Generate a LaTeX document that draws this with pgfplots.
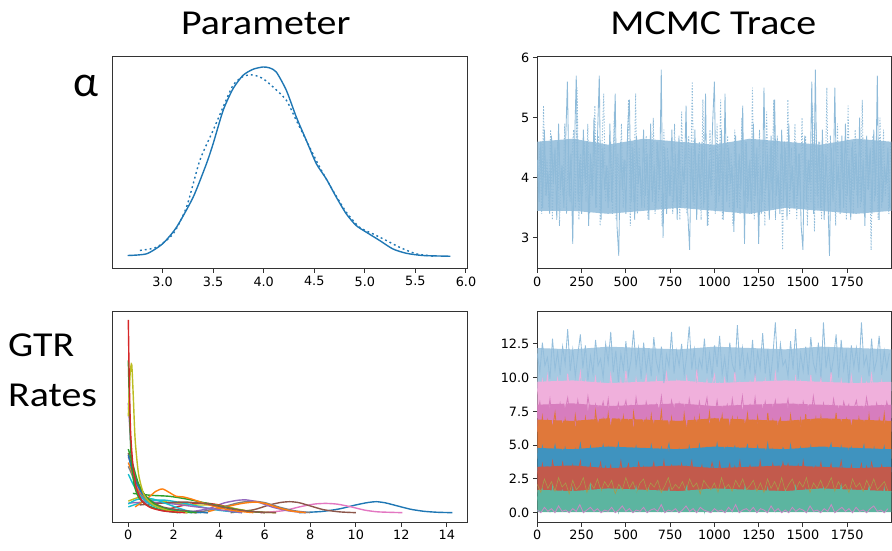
\documentclass[border=0pt]{standalone}
\usepackage{fontspec}
\usepackage{graphicx}
\usepackage{pgfplots}
\pgfplotsset{compat=1.18}
\newfontfamily\carlito{Carlito}
\newfontfamily\dejavu{DejaVu Sans}

\definecolor{c0}{HTML}{1F77B4}
\definecolor{c1}{HTML}{FF7F0E}
\definecolor{c2}{HTML}{2CA02C}
\definecolor{c3}{HTML}{D62728}
\definecolor{c4}{HTML}{9467BD}
\definecolor{c5}{HTML}{8C564B}
\definecolor{c6}{HTML}{E377C2}
\definecolor{c7}{HTML}{7F7F7F}
\definecolor{c8}{HTML}{BCBD22}
\definecolor{c9}{HTML}{17BECF}
% trace colours (alpha-blended look)
\definecolor{tr}{HTML}{8FBBD9}
\definecolor{b1}{HTML}{94BEDC}
\definecolor{b2}{HTML}{F0B0DC}
\definecolor{b2b}{HTML}{D77DBE}
\definecolor{b3}{HTML}{E0783A}
\definecolor{b4}{HTML}{3F93BF}
\definecolor{b5}{HTML}{C25A4C}
\definecolor{b6}{HTML}{A99A4A}
\definecolor{b7}{HTML}{5CB5A0}
\definecolor{b8}{HTML}{C68BC4}

\pgfplotsset{
  mpl/.style={
    scale only axis, anchor=south west,
    axis line style={black!80, line width=1pt},
    tick align=outside, major tick length=4.5pt,
    tick style={black!80, line width=1pt},
    xtick pos=left, ytick pos=left,
    tick label style={font=\dejavu\fontsize{12.8}{15}\selectfont},
    /pgf/number format/assume math mode=true,
    /pgf/number format/1000 sep={},
    scaled ticks=false,
  },
  kde/.style={line width=1.4pt, smooth, tension=0.4},
  tl/.style={line width=0.85pt},
  band/.style={draw=none, fill=#1},
}

\begin{document}
\begin{tikzpicture}[x=1pt,y=1pt]
\useasboundingbox (0,0) rectangle (892,551);

% titles and row labels
\node[inner sep=0, anchor=base, font=\carlito\fontsize{35}{40}\selectfont] at (265.8,516.7) {\scalebox{1.14}[1]{Parameter}};
\node[inner sep=0, anchor=base, font=\carlito\fontsize{35}{40}\selectfont] at (713.3,516) {\scalebox{1.14}[1]{MCMC Trace}};
\node[inner sep=0, anchor=base west, font=\carlito\fontsize{44}{48}\selectfont] at (73,454) {α};
\node[inner sep=0, anchor=base west, font=\carlito\fontsize{35}{40}\selectfont] at (8,194.3) {\scalebox{1.14}[1]{GTR}};
\node[inner sep=0, anchor=base west, font=\carlito\fontsize{35}{40}\selectfont] at (8,144) {\scalebox{1.14}[1]{Rates}};

% ---- alpha density
\begin{axis}[mpl, at={(112pt,282.5pt)}, width=355pt, height=211.5pt,
  xmin=2.50, xmax=6.01, ymin=-0.069, ymax=1.053, ytick=\empty,
  xtick={3.0,3.5,4.0,4.5,5.0,5.5,6.0},
  xticklabel style={/pgf/number format/.cd, fixed, fixed zerofill, precision=1}]
\addplot[c0, kde] coordinates {(2.655,0)(2.842,0.009)(3.0,0.062)(3.138,0.150)(3.303,0.310)(3.434,0.487)(3.5,0.593)(3.599,0.770)(3.697,0.885)(3.796,0.956)(3.895,0.988)(3.993,1.0)(4.059,0.995)(4.125,0.973)(4.224,0.876)(4.322,0.735)(4.421,0.611)(4.520,0.487)(4.618,0.407)(4.717,0.310)(4.816,0.221)(4.914,0.159)(5.013,0.124)(5.145,0.080)(5.276,0.035)(5.408,0.012)(5.572,0.0)(5.845,-0.004)};
\addplot[c0, kde, line width=1.4pt, dash pattern=on 1.9pt off 3pt] coordinates {(2.776,0.027)(2.941,0.044)(3.105,0.115)(3.237,0.257)(3.368,0.504)(3.5,0.664)(3.599,0.788)(3.697,0.903)(3.796,0.950)(3.895,0.958)(3.993,0.938)(4.092,0.894)(4.224,0.823)(4.322,0.717)(4.454,0.575)(4.553,0.469)(4.684,0.345)(4.816,0.230)(4.947,0.150)(5.079,0.115)(5.211,0.080)(5.342,0.044)(5.507,0.009)(5.704,-0.005)};
\end{axis}

% ---- alpha trace
\begin{axis}[mpl, at={(537.3pt,282.5pt)}, width=354pt, height=211.5pt,
  xmin=0, xmax=1999, ymin=2.49, ymax=6.01,
  ytick={3,4,5,6}, xtick={0,250,500,750,1000,1250,1500,1750}]
% dense core of both chains
\addplot[band=tr!85!white] coordinates {(0,4.6)(200,4.65)(400,4.55)(600,4.65)(800,4.6)(1000,4.55)(1200,4.65)(1400,4.6)(1600,4.55)(1800,4.65)(2000,4.6)
 (2000,3.45)(1800,3.4)(1600,3.45)(1400,3.5)(1200,3.4)(1000,3.45)(800,3.5)(600,3.45)(400,3.4)(200,3.45)(0,3.45)};
\addplot[tr, tl] table[row sep=\\, header=false, x expr=\coordindex*10, y index=0] {
4.3\\3.6\\4.6\\3.5\\4.8\\3.7\\4.1\\3.4\\4.7\\3.9\\4.5\\3.3\\4.9\\3.8\\4.2\\3.5\\4.6\\5.6\\3.7\\4.4\\
2.9\\4.5\\5.7\\3.6\\4.3\\3.4\\4.8\\3.9\\4.6\\3.2\\4.4\\3.7\\5.0\\3.5\\4.7\\5.7\\3.3\\4.5\\3.8\\4.2\\
3.5\\4.9\\3.6\\4.4\\5.4\\3.2\\2.7\\4.6\\3.8\\4.3\\3.4\\4.8\\5.3\\3.6\\4.5\\3.3\\4.7\\3.9\\4.2\\3.5\\
4.8\\3.7\\4.4\\3.3\\4.9\\3.6\\4.2\\3.5\\4.6\\3.8\\5.8\\3.0\\4.5\\3.4\\4.3\\3.7\\4.8\\3.6\\4.4\\3.3\\
4.7\\3.5\\4.2\\3.9\\5.2\\3.4\\2.8\\4.5\\3.6\\4.8\\3.3\\4.4\\3.7\\4.6\\3.5\\5.4\\3.2\\4.3\\3.8\\4.9\\
5.6\\3.5\\4.4\\3.7\\4.8\\3.3\\5.4\\3.6\\4.5\\3.9\\4.2\\3.1\\4.7\\3.5\\4.4\\3.8\\5.2\\2.9\\4.6\\3.6\\
4.3\\3.4\\4.9\\3.7\\4.5\\2.9\\4.2\\3.6\\5.5\\3.8\\4.4\\3.3\\4.7\\3.5\\5.3\\3.7\\4.1\\3.4\\4.8\\3.6\\
4.5\\3.3\\4.9\\3.8\\4.2\\3.5\\4.6\\3.7\\4.4\\3.2\\2.8\\4.7\\3.6\\4.3\\3.9\\5.6\\3.4\\5.8\\3.7\\4.6\\
3.5\\4.8\\3.3\\4.4\\3.7\\2.7\\4.5\\3.6\\5.5\\3.8\\4.2\\3.4\\4.7\\3.5\\4.9\\3.7\\4.3\\3.3\\4.6\\3.8\\
4.4\\3.5\\5.0\\3.6\\4.3\\3.2\\4.7\\3.8\\4.5\\3.4\\4.8\\3.7\\5.7\\3.3\\4.6\\3.6\\4.2\\3.9\\4.5\\3.5\\
};
\addplot[tr, tl, dash pattern=on 1.3pt off 1.6pt] table[row sep=\\, header=false, x expr=\coordindex*10+5, y index=0] {
3.8\\4.5\\3.4\\5.2\\3.7\\4.3\\3.5\\4.8\\3.3\\4.4\\3.9\\4.6\\3.2\\4.2\\3.7\\4.9\\3.4\\4.5\\3.6\\4.3\\
4.8\\3.5\\5.5\\3.3\\4.4\\3.7\\4.6\\3.6\\4.9\\3.4\\4.3\\3.8\\5.2\\3.5\\4.7\\3.2\\4.5\\5.4\\3.6\\4.2\\
3.6\\4.6\\3.4\\5.1\\3.3\\4.4\\3.7\\4.9\\3.5\\4.3\\3.9\\5.3\\3.2\\4.6\\3.6\\5.4\\3.4\\4.5\\3.7\\4.1\\
3.5\\4.7\\3.3\\4.4\\3.8\\5.0\\3.4\\4.6\\3.6\\4.3\\3.2\\4.8\\3.5\\4.5\\3.7\\4.2\\3.4\\4.9\\3.6\\4.4\\
3.3\\5.1\\3.6\\4.5\\3.4\\4.7\\3.7\\5.6\\3.5\\4.3\\3.9\\4.6\\3.3\\5.3\\3.6\\4.4\\3.2\\4.8\\3.7\\4.5\\
3.4\\4.9\\3.6\\5.3\\3.3\\4.5\\3.8\\4.7\\3.5\\4.4\\3.2\\4.8\\3.6\\4.3\\3.4\\5.0\\3.7\\4.6\\3.5\\4.2\\
3.6\\5.5\\3.3\\4.4\\3.7\\4.8\\3.4\\4.6\\3.2\\5.1\\3.6\\4.5\\3.8\\5.3\\3.3\\4.7\\3.5\\4.4\\2.8\\4.6\\
3.7\\5.3\\3.4\\4.5\\3.6\\4.9\\3.3\\4.4\\3.8\\5.0\\3.5\\4.7\\3.2\\4.3\\3.6\\5.2\\3.1\\4.8\\3.5\\4.6\\
3.3\\4.4\\3.6\\5.5\\3.4\\4.7\\3.7\\4.3\\3.2\\4.9\\3.5\\4.6\\3.8\\4.4\\3.3\\5.2\\3.6\\4.5\\3.4\\4.8\\
3.7\\4.3\\3.5\\5.3\\3.4\\4.6\\3.8\\4.4\\2.8\\4.7\\3.6\\4.5\\3.3\\5.0\\3.5\\4.8\\3.7\\4.2\\3.4\\4.6\\
};
\end{axis}

% ---- GTR rates densities
\begin{axis}[mpl, at={(112pt,28.7pt)}, width=355pt, height=210.6pt,
  xmin=-0.717, xmax=14.89, ymin=-0.05, ymax=1.043, ytick=\empty,
  xtick={0,2,4,6,8,10,12,14}]
\addplot[c0, kde] coordinates {(7.5,0)(8.5,0.006)(9.3,0.02)(10.0,0.04)(10.5,0.052)(10.9,0.057)(11.3,0.051)(11.8,0.036)(12.4,0.018)(13.0,0.007)(13.6,0.002)(14.25,0)};
\addplot[c6, kde] coordinates {(5.8,0)(6.8,0.01)(7.6,0.032)(8.2,0.045)(8.7,0.048)(9.2,0.044)(9.8,0.03)(10.4,0.013)(11.0,0.004)(12.05,0)};
\addplot[c5, kde] coordinates {(4.5,0)(5.5,0.015)(6.2,0.04)(6.7,0.053)(7.1,0.057)(7.5,0.052)(8.0,0.035)(8.6,0.015)(9.3,0.004)(10.0,0)};
\addplot[c7, kde] coordinates {(3.0,0)(4.0,0.025)(4.8,0.05)(5.4,0.06)(6.0,0.052)(6.6,0.03)(7.3,0.01)(8.0,0)};
\addplot[c4, kde] coordinates {(2.5,0)(3.5,0.02)(4.2,0.05)(4.8,0.064)(5.2,0.066)(5.7,0.055)(6.3,0.03)(7.0,0.01)(7.8,0)};
\addplot[c1, kde] coordinates {(3.5,0.005)(4.3,0.03)(5.0,0.048)(5.6,0.055)(6.1,0.045)(6.6,0.025)(7.2,0.008)(7.8,0)};
\addplot[c3, kde] coordinates {(1.5,0.01)(2.5,0.04)(3.3,0.05)(4.0,0.04)(5.0,0.012)(6.0,0)};
\addplot[c8, kde] coordinates {(0,0.06)(0.5,0.08)(1.0,0.07)(2.0,0.05)(3.0,0.04)(3.8,0.04)(4.5,0.025)(5.5,0.005)(6.5,0)};
\addplot[c2, kde] coordinates {(0.2,0.1)(1.0,0.09)(1.8,0.085)(2.6,0.07)(3.4,0.05)(4.2,0.03)(5.0,0.012)(6.0,0)};
\addplot[c9, kde] coordinates {(0,0.03)(0.8,0.06)(1.6,0.065)(2.4,0.05)(3.2,0.03)(4.0,0.012)(5.0,0)};
\addplot[c4, kde] coordinates {(0,0.05)(1.0,0.055)(2.0,0.045)(3.0,0.03)(4.0,0.015)(5.0,0)};
\addplot[c1, kde] coordinates {(0.3,0.03)(0.8,0.07)(1.2,0.11)(1.5,0.123)(1.8,0.105)(2.1,0.085)(2.4,0.082)(2.8,0.07)(3.3,0.05)(4.0,0.025)(4.8,0.008)(5.5,0)};
\addplot[c5, kde] coordinates {(0.5,0.04)(1.5,0.05)(2.5,0.055)(3.5,0.045)(4.5,0.02)(5.5,0.005)(6.5,0)};
\addplot[c9, kde] coordinates {(0,0.045)(0.3,0.065)(0.7,0.075)(1.1,0.07)(1.6,0.05)(2.1,0.028)(2.6,0.01)(3.2,0)};
\addplot[c7, kde] coordinates {(0,0.24)(0.15,0.2)(0.4,0.12)(0.8,0.06)(1.4,0.025)(2.2,0.006)(3.0,0)};
\addplot[c1, kde] coordinates {(0,0.26)(0.2,0.2)(0.5,0.11)(1.0,0.05)(1.7,0.015)(2.6,0)};
\addplot[c6, kde] coordinates {(0,0.29)(0.15,0.24)(0.4,0.14)(0.8,0.07)(1.4,0.03)(2.2,0.008)(3.0,0)};
\addplot[c5, kde] coordinates {(0,0.31)(0.2,0.22)(0.5,0.13)(0.9,0.07)(1.5,0.03)(2.5,0.01)(3.5,0)};
\addplot[c0, kde] coordinates {(0,0.3)(0.1,0.25)(0.3,0.17)(0.6,0.1)(1.0,0.05)(1.6,0.02)(2.5,0.005)(3.5,0)};
\addplot[c9, kde] coordinates {(0,0.2)(0.2,0.15)(0.5,0.09)(1.0,0.04)(1.8,0.01)(2.8,0)};
\addplot[c2, kde] coordinates {(0,0.33)(0.2,0.25)(0.45,0.15)(0.8,0.08)(1.3,0.035)(2.0,0.01)(3.0,0)};
\addplot[c4, kde] coordinates {(0,0.57)(0.06,0.45)(0.15,0.28)(0.3,0.15)(0.5,0.08)(0.9,0.035)(1.5,0.01)(2.3,0)};
\addplot[c2, kde] coordinates {(0,0.79)(0.05,0.55)(0.12,0.3)(0.25,0.15)(0.45,0.08)(0.8,0.04)(1.4,0.015)(2.2,0)};
\addplot[c8, kde] coordinates {(0,0.5)(0.08,0.72)(0.15,0.77)(0.22,0.6)(0.3,0.38)(0.45,0.2)(0.7,0.09)(1.1,0.04)(1.8,0.01)(2.6,0)};
\addplot[c3, kde] coordinates {(0,1.0)(0.04,0.7)(0.1,0.42)(0.2,0.25)(0.35,0.13)(0.6,0.06)(1.0,0.025)(1.6,0.008)(2.5,0)};
\end{axis}

% ---- GTR rates traces
\begin{axis}[mpl, at={(537.3pt,28.7pt)}, width=354pt, height=210.6pt,
  xmin=0, xmax=1999, ymin=-0.71, ymax=14.89,
  ytick={0,2.5,5,7.5,10,12.5}, xtick={0,250,500,750,1000,1250,1500,1750},
  yticklabel style={/pgf/number format/.cd, fixed, fixed zerofill, precision=1}]
% dense cores of the rate traces (upper edge of each band, drawn from the top down)
\addplot[band=b1!82!white] coordinates {(0,12.2)(200,12.1)(400,12.3)(600,12.2)(800,12.1)(1000,12.3)(1200,12.2)(1400,12.1)(1600,12.3)(1800,12.2)(2000,12.1)(2000,9.0)(0,9.0)};
\addplot[band=b2] coordinates {(0,9.7)(200,9.8)(400,9.6)(600,9.7)(800,9.8)(1000,9.6)(1200,9.7)(1400,9.8)(1600,9.7)(1800,9.6)(2000,9.7)(2000,7.0)(0,7.0)};
\addplot[band=b2b] coordinates {(0,8.0)(200,8.1)(400,7.9)(600,8.0)(800,8.1)(1000,7.9)(1200,8.0)(1400,8.1)(1600,8.0)(1800,7.9)(2000,8.0)(2000,6.0)(0,6.0)};
\addplot[band=b3] coordinates {(0,6.9)(200,6.8)(400,7.0)(600,6.9)(800,6.8)(1000,7.0)(1200,6.9)(1400,6.8)(1600,7.0)(1800,6.9)(2000,6.8)(2000,4.0)(0,4.0)};
\addplot[band=b4] coordinates {(0,4.8)(200,4.7)(400,4.9)(600,4.8)(800,4.7)(1000,4.9)(1200,4.8)(1400,4.7)(1600,4.9)(1800,4.8)(2000,4.7)(2000,3.0)(0,3.0)};
\addplot[band=b5] coordinates {(0,3.4)(200,3.5)(400,3.3)(600,3.4)(800,3.5)(1000,3.3)(1200,3.4)(1400,3.5)(1600,3.4)(1800,3.3)(2000,3.4)(2000,1.5)(0,1.5)};
\addplot[band=b7] coordinates {(0,1.7)(200,1.6)(400,1.8)(600,1.7)(800,1.6)(1000,1.8)(1200,1.7)(1400,1.6)(1600,1.8)(1800,1.7)(2000,1.6)(2000,0.05)(0,0.05)};
% individual draws
\addplot[b1, tl] table[row sep=\\, header=false, x expr=\coordindex*14.3, y index=0] {
11.8\\10.4\\12.6\\10.9\\11.5\\9.9\\12.9\\10.6\\11.9\\10.2\\12.3\\11.0\\13.6\\10.5\\
12.1\\10.1\\11.7\\13.2\\10.7\\12.4\\9.8\\11.6\\10.3\\12.8\\10.9\\11.4\\10.0\\12.5\\
11.1\\13.4\\10.4\\12.0\\9.7\\11.8\\10.6\\12.7\\10.2\\11.3\\13.5\\10.8\\12.2\\9.9\\
12.6\\10.5\\11.9\\10.1\\13.0\\11.2\\10.4\\12.3\\9.6\\11.7\\10.8\\13.4\\10.3\\12.0\\
10.9\\12.5\\10.2\\11.6\\13.8\\10.6\\12.1\\9.9\\11.4\\10.7\\12.9\\10.3\\11.8\\10.0\\
12.4\\10.8\\13.1\\10.2\\11.5\\9.7\\12.6\\11.0\\10.4\\13.9\\10.6\\12.2\\10.1\\11.7\\
10.5\\12.8\\10.0\\11.9\\10.7\\13.3\\10.3\\12.1\\9.8\\11.6\\14.1\\10.4\\12.5\\10.9\\
11.3\\10.1\\12.7\\10.6\\13.6\\9.9\\11.8\\10.5\\12.3\\10.2\\13.0\\11.1\\10.4\\12.6\\
9.8\\14.1\\10.7\\12.0\\10.3\\11.5\\13.2\\10.0\\12.8\\10.6\\11.9\\9.6\\12.4\\10.8\\
12.2\\10.4\\14.1\\10.9\\11.6\\10.1\\12.9\\10.5\\11.3\\13.1\\10.2\\12.0\\10.7\\11.8\\
};
\addplot[b2, tl] table[row sep=\\, header=false, x expr=\coordindex*14.3, y index=0] {
9.2\\8.1\\9.8\\8.5\\10.1\\8.0\\9.4\\8.7\\9.9\\8.3\\9.1\\7.9\\10.3\\8.6\\
9.5\\8.2\\9.0\\10.4\\8.4\\9.7\\7.8\\9.3\\8.8\\10.0\\8.1\\9.6\\8.5\\9.2\\
8.0\\10.2\\8.6\\9.4\\7.9\\9.8\\8.3\\10.5\\8.7\\9.1\\8.2\\9.9\\8.4\\9.6\\
8.9\\10.1\\8.2\\9.3\\8.6\\9.9\\7.8\\9.5\\8.4\\10.3\\8.8\\9.2\\8.0\\9.7\\
8.5\\9.4\\8.1\\10.0\\8.7\\9.6\\8.3\\10.6\\8.0\\9.2\\8.6\\9.8\\8.2\\9.4\\
10.2\\8.4\\9.5\\8.0\\9.9\\8.7\\9.1\\8.2\\10.4\\8.5\\9.6\\7.9\\9.3\\8.8\\
9.7\\8.3\\10.1\\8.6\\9.2\\8.0\\9.8\\8.4\\9.5\\8.1\\10.3\\8.7\\9.0\\8.3\\
9.6\\8.0\\9.3\\8.5\\10.0\\8.2\\9.7\\8.8\\9.4\\7.9\\10.2\\8.4\\9.1\\8.6\\
9.9\\8.3\\9.5\\8.1\\10.4\\8.6\\9.2\\8.0\\9.8\\8.5\\9.4\\8.2\\10.1\\8.7\\
9.3\\8.4\\9.9\\8.0\\9.6\\8.7\\10.2\\8.3\\9.1\\8.5\\9.7\\8.1\\9.4\\8.6\\
};
\addplot[b2b, tl] table[row sep=\\, header=false, x expr=\coordindex*14.3, y index=0] {
7.3\\8.2\\6.9\\7.8\\7.1\\8.4\\6.7\\7.9\\7.2\\8.1\\6.8\\7.6\\8.5\\7.0\\
7.7\\6.6\\8.3\\7.2\\7.9\\6.9\\8.6\\7.4\\7.0\\8.0\\6.8\\7.5\\8.2\\7.1\\
8.4\\6.7\\7.8\\7.2\\8.1\\6.9\\7.6\\8.3\\7.0\\7.9\\6.6\\8.5\\7.3\\7.7\\
6.9\\8.2\\7.4\\7.9\\6.8\\8.0\\7.2\\8.6\\7.0\\7.7\\6.7\\8.3\\7.5\\7.1\\
8.1\\7.0\\7.8\\6.6\\8.4\\7.3\\7.9\\6.9\\8.2\\7.1\\7.6\\8.5\\6.8\\7.7\\
7.2\\8.3\\6.9\\7.8\\7.4\\8.0\\6.7\\8.4\\7.1\\7.9\\7.3\\8.6\\6.8\\7.6\\
8.0\\7.1\\8.5\\6.8\\7.7\\7.2\\8.2\\6.9\\7.8\\7.4\\8.3\\6.7\\7.9\\7.0\\
7.5\\8.4\\6.9\\8.0\\7.2\\7.7\\6.6\\8.2\\7.4\\7.9\\7.0\\8.6\\7.3\\7.8\\
6.8\\8.1\\7.3\\7.9\\7.0\\8.4\\7.2\\7.6\\6.9\\8.2\\7.5\\8.0\\6.7\\7.7\\
8.3\\7.1\\7.8\\6.9\\8.5\\7.4\\7.6\\7.0\\8.1\\7.3\\7.9\\6.8\\8.2\\7.5\\
};
\addplot[b3, tl] table[row sep=\\, header=false, x expr=\coordindex*14.3, y index=0] {
6.4\\5.2\\7.1\\5.7\\6.8\\5.0\\6.2\\7.4\\5.5\\6.6\\4.9\\6.9\\5.8\\6.3\\
5.1\\7.2\\5.9\\6.5\\4.8\\7.0\\5.6\\6.7\\5.3\\7.5\\6.0\\5.4\\6.9\\5.7\\
7.3\\5.5\\6.4\\5.0\\6.8\\5.8\\7.1\\5.2\\6.6\\4.9\\7.4\\6.0\\5.4\\6.7\\
5.3\\6.9\\5.7\\7.2\\5.0\\6.5\\5.9\\7.5\\5.4\\6.3\\4.8\\7.0\\5.6\\6.6\\
6.2\\5.1\\7.3\\5.8\\6.7\\5.3\\6.9\\4.9\\7.1\\5.5\\6.4\\5.9\\7.4\\5.2\\
6.8\\5.4\\6.1\\7.2\\5.0\\6.6\\5.7\\7.0\\5.3\\6.9\\4.8\\6.5\\5.8\\7.3\\
5.5\\6.7\\5.1\\7.1\\5.9\\6.3\\4.9\\7.4\\5.6\\6.8\\5.2\\6.4\\7.0\\5.7\\
6.5\\5.3\\7.2\\5.8\\6.6\\5.0\\6.9\\5.5\\7.3\\5.1\\6.2\\5.9\\7.0\\5.4\\
7.1\\5.6\\6.4\\5.0\\6.8\\5.7\\7.4\\5.2\\6.5\\5.9\\6.9\\4.9\\6.3\\5.8\\
5.4\\7.0\\5.8\\6.6\\5.1\\7.2\\5.6\\6.4\\5.0\\6.9\\5.7\\7.3\\5.3\\6.7\\
};
\addplot[b4, tl] table[row sep=\\, header=false, x expr=\coordindex*14.3, y index=0] {
4.4\\3.7\\4.9\\3.9\\4.6\\3.5\\4.2\\5.0\\3.8\\4.5\\3.6\\4.8\\4.0\\4.3\\
3.6\\4.7\\4.1\\5.1\\3.8\\4.4\\3.5\\4.9\\4.0\\4.6\\3.7\\4.3\\5.0\\3.9\\
4.8\\3.6\\4.5\\3.9\\5.1\\3.7\\4.2\\4.7\\3.5\\4.4\\4.0\\4.9\\3.8\\4.6\\
3.9\\4.6\\3.6\\5.0\\4.1\\4.5\\3.7\\4.8\\3.8\\4.3\\5.1\\3.6\\4.4\\4.0\\
4.7\\3.8\\4.4\\3.5\\4.9\\4.0\\4.6\\3.7\\5.0\\3.9\\4.2\\4.8\\3.6\\4.5\\
4.1\\5.1\\3.7\\4.5\\3.9\\4.8\\3.6\\4.3\\4.9\\3.8\\4.6\\3.5\\4.4\\5.0\\
3.8\\4.6\\4.0\\4.9\\3.6\\4.4\\3.9\\5.1\\3.7\\4.7\\4.1\\4.3\\3.5\\4.8\\
4.5\\3.7\\5.0\\3.9\\4.3\\3.6\\4.8\\4.0\\4.6\\3.8\\4.9\\3.5\\4.4\\4.1\\
3.6\\4.7\\3.9\\4.4\\5.1\\3.8\\4.5\\3.7\\4.9\\4.0\\4.3\\3.6\\4.8\\3.9\\
4.6\\3.8\\4.2\\5.0\\3.7\\4.5\\3.9\\4.8\\3.6\\4.4\\4.1\\4.9\\3.8\\4.3\\
};
\addplot[b5, tl] table[row sep=\\, header=false, x expr=\coordindex*14.3, y index=0] {
3.1\\2.4\\3.6\\2.7\\3.3\\2.2\\3.8\\2.9\\3.4\\2.5\\3.7\\2.8\\3.2\\2.3\\
3.5\\2.6\\3.0\\3.8\\2.4\\3.3\\2.7\\3.6\\2.2\\3.1\\2.9\\3.7\\2.5\\3.4\\
2.8\\3.5\\2.3\\3.2\\2.7\\3.8\\2.5\\3.0\\3.6\\2.4\\3.3\\2.6\\3.7\\2.9\\
3.4\\2.2\\3.1\\2.8\\3.7\\2.5\\3.3\\2.6\\3.8\\2.3\\3.0\\3.5\\2.7\\3.2\\
2.6\\3.6\\2.4\\3.4\\2.9\\3.8\\2.3\\3.1\\2.7\\3.5\\2.5\\3.3\\2.8\\3.7\\
3.0\\2.4\\3.7\\2.6\\3.2\\2.9\\3.6\\2.2\\3.4\\2.7\\3.8\\2.5\\3.1\\2.8\\
3.5\\2.7\\3.3\\2.3\\3.8\\2.6\\3.0\\3.4\\2.4\\3.6\\2.8\\3.2\\2.5\\3.7\\
2.9\\3.6\\2.5\\3.1\\2.7\\3.5\\2.3\\3.8\\2.6\\3.3\\3.0\\2.4\\3.4\\2.8\\
3.7\\2.5\\3.2\\2.8\\3.6\\2.4\\3.3\\2.9\\3.8\\2.6\\3.1\\2.3\\3.5\\2.7\\
3.2\\2.8\\3.6\\2.4\\3.4\\2.6\\3.7\\2.9\\3.1\\2.5\\3.5\\2.7\\3.3\\2.6\\
};
\addplot[b6, line width=0.6pt] table[row sep=\\, header=false, x expr=\coordindex*20, y index=0] {
2.1\\1.5\\2.5\\1.8\\2.3\\1.6\\2.6\\1.9\\2.2\\1.4\\
2.4\\1.7\\2.0\\2.6\\1.5\\2.2\\1.8\\2.5\\1.6\\2.3\\
1.9\\2.4\\1.4\\2.1\\1.7\\2.6\\1.8\\2.3\\1.5\\2.2\\
2.5\\1.6\\2.2\\1.9\\2.4\\1.5\\2.0\\2.6\\1.7\\2.1\\
1.8\\2.3\\1.6\\2.5\\1.9\\2.2\\1.4\\2.4\\2.0\\1.7\\
2.2\\1.5\\2.6\\1.8\\2.1\\1.6\\2.4\\1.9\\2.5\\1.7\\
2.0\\2.4\\1.6\\2.2\\1.5\\2.5\\1.8\\2.3\\1.7\\2.6\\
1.6\\2.1\\2.5\\1.7\\2.3\\1.9\\2.6\\1.5\\2.2\\1.8\\
2.4\\1.7\\2.0\\2.6\\1.6\\2.3\\1.8\\2.1\\1.5\\2.5\\
1.9\\2.2\\1.6\\2.4\\1.8\\2.5\\1.7\\2.0\\2.3\\1.6\\
};
\addplot[b7, tl] table[row sep=\\, header=false, x expr=\coordindex*14.3, y index=0] {
1.2\\0.4\\1.7\\0.8\\1.4\\0.2\\1.9\\0.7\\1.1\\0.3\\1.6\\0.9\\1.3\\0.5\\
1.8\\0.6\\1.0\\1.5\\0.3\\1.2\\0.8\\2.0\\0.4\\1.4\\0.7\\1.7\\0.2\\1.1\\
0.9\\1.6\\0.5\\1.3\\0.1\\1.8\\0.7\\1.2\\0.4\\1.5\\0.9\\1.9\\0.6\\1.0\\
1.4\\0.3\\1.7\\0.8\\1.1\\0.5\\1.6\\0.2\\1.3\\0.9\\1.8\\0.4\\1.2\\0.7\\
1.5\\0.6\\1.0\\1.9\\0.3\\1.4\\0.8\\1.6\\0.5\\1.2\\0.1\\1.7\\0.9\\1.3\\
0.7\\1.5\\0.4\\1.1\\1.8\\0.6\\1.3\\0.2\\1.6\\0.9\\1.4\\0.5\\1.9\\0.8\\
1.2\\0.3\\1.7\\1.0\\0.6\\1.5\\0.4\\1.8\\0.7\\1.3\\0.2\\1.6\\1.0\\0.5\\
1.6\\0.8\\1.1\\0.3\\1.9\\0.6\\1.4\\0.9\\1.7\\0.4\\1.2\\0.7\\1.5\\0.2\\
1.0\\1.8\\0.5\\1.3\\0.8\\1.6\\0.3\\1.1\\2.0\\0.6\\1.4\\0.9\\1.7\\0.4\\
1.3\\0.7\\1.6\\0.4\\1.2\\1.9\\0.5\\1.5\\0.8\\1.1\\0.3\\1.8\\0.6\\1.4\\
};
\addplot[b8, tl] table[row sep=\\, header=false, x expr=\coordindex*20, y index=0] {
0.2\\0.0\\0.4\\0.1\\0.3\\0.0\\0.5\\0.1\\0.2\\0.0\\
0.3\\0.1\\0.6\\0.0\\0.2\\0.4\\0.1\\0.3\\0.0\\0.2\\
0.1\\0.4\\0.0\\0.2\\0.5\\0.1\\0.3\\0.0\\0.2\\0.1\\
0.4\\0.0\\0.2\\0.3\\0.1\\0.6\\0.0\\0.2\\0.1\\0.3\\
0.0\\0.2\\0.5\\0.1\\0.3\\0.0\\0.4\\0.2\\0.1\\0.0\\
0.3\\0.1\\0.2\\0.0\\0.4\\0.1\\0.6\\0.0\\0.2\\0.3\\
0.1\\0.4\\0.0\\0.3\\0.2\\0.0\\0.5\\0.1\\0.3\\0.0\\
0.2\\0.0\\0.4\\0.1\\0.3\\0.2\\0.0\\0.5\\0.1\\0.2\\
0.0\\0.3\\0.1\\0.6\\0.0\\0.2\\0.4\\0.1\\0.3\\0.0\\
0.4\\0.1\\0.2\\0.0\\0.3\\0.5\\0.1\\0.2\\0.0\\0.3\\
};
\end{axis}
\end{tikzpicture}
\end{document}
